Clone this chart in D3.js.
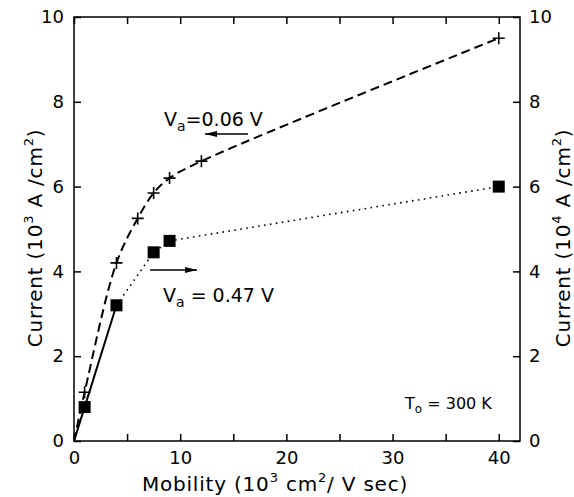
<!DOCTYPE html>
<html>
<head>
<meta charset="utf-8">
<script src="https://cdn.jsdelivr.net/npm/d3@7"></script>
<style>
  html, body { margin: 0; padding: 0; background: #fff; }
  svg { display: block; font-family: "DejaVu Sans", sans-serif; }
</style>
</head>
<body>
<svg id="chart" width="574" height="497"></svg>
<script>
// ---- data ----
const mobility006 = [0, 1, 4, 6, 7.5, 9, 12, 40];
const current006 = [0, 1.15, 4.2, 5.25, 5.85, 6.2, 6.6, 9.5];   // left axis, 10^3 A/cm^2
const mobility047 = [1, 4, 7.5, 9, 40];
const current047 = [0.8, 3.2, 4.45, 4.72, 6.0];                  // right axis, 10^4 A/cm^2
const solidMobility = [0, 1, 4];
const solidCurrent = [0, 0.8, 3.2];
const xTicks = [0, 10, 20, 30, 40];
const xMinorTicks = [5, 15, 25, 35];
const yTicks = [0, 2, 4, 6, 8, 10];

(function () {
const svg = d3.select("#chart");
const pL = 74, pR = 520, pT = 17, pB = 441;
const x = d3.scaleLinear().domain([0, 42]).range([pL, pR]);
const yL = d3.scaleLinear().domain([0, 10]).range([pB, pT]);
const yR = d3.scaleLinear().domain([0, 10]).range([pB, pT]);

// frame
svg.append("rect").attr("x", pL).attr("y", pT)
  .attr("width", pR - pL).attr("height", pB - pT)
  .attr("fill", "none").attr("stroke", "#000").attr("stroke-width", 1.5);

const tickLen = 7;
const allX = xTicks.concat(xMinorTicks);
const axB = svg.append("g").attr("transform", `translate(0,${pB})`)
  .call(d3.axisBottom(x).tickValues(allX).tickSize(-tickLen).tickSizeOuter(0).tickPadding(10)
    .tickFormat(d => xTicks.includes(d) ? d3.format("d")(d) : ""));
const axT = svg.append("g").attr("transform", `translate(0,${pT})`)
  .call(d3.axisTop(x).tickValues(allX).tickSize(-tickLen).tickSizeOuter(0).tickFormat(""));
const axL = svg.append("g").attr("transform", `translate(${pL},0)`)
  .call(d3.axisLeft(yL).tickValues(yTicks).tickSize(-tickLen).tickSizeOuter(0).tickPadding(10));
const axR = svg.append("g").attr("transform", `translate(${pR},0)`)
  .call(d3.axisRight(yR).tickValues(yTicks).tickSize(-tickLen).tickSizeOuter(0).tickPadding(9));

[axB, axT, axL, axR].forEach(g => {
  g.select(".domain").remove();
  g.selectAll(".tick line").attr("stroke", "#000").attr("stroke-width", 1.5);
  g.selectAll(".tick text").attr("font-size", 18).attr("font-family", "DejaVu Sans, sans-serif").attr("fill", "#000");
});

// lines
const dashedData = mobility006.map((m, i) => [m, current006[i]]);
const dottedData = mobility047.slice(1).map((m, i) => [m, current047[i + 1]]);
const solidData = solidMobility.map((m, i) => [m, solidCurrent[i]]);

svg.append("path").datum(dashedData)
  .attr("d", d3.line().x(d => x(d[0])).y(d => yL(d[1])).curve(d3.curveCatmullRom.alpha(0.5)))
  .attr("fill", "none").attr("stroke", "#000").attr("stroke-width", 2).attr("stroke-dasharray", "9,5");

svg.append("path").datum(solidData)
  .attr("d", d3.line().x(d => x(d[0])).y(d => yR(d[1])))
  .attr("fill", "none").attr("stroke", "#000").attr("stroke-width", 2);

svg.append("path").datum(dottedData)
  .attr("d", d3.line().x(d => x(d[0])).y(d => yR(d[1])))
  .attr("fill", "none").attr("stroke", "#000").attr("stroke-width", 1.6).attr("stroke-dasharray", "1.6,4.4");

// plus markers
const pm = 6;
svg.append("g").selectAll("path").data(dashedData.slice(1)).join("path")
  .attr("d", d => `M${x(d[0]) - pm},${yL(d[1])}H${x(d[0]) + pm}M${x(d[0])},${yL(d[1]) - pm}V${yL(d[1]) + pm}`)
  .attr("stroke", "#000").attr("stroke-width", 1.6);

// square markers
const sq = 12;
svg.append("g").selectAll("rect").data(mobility047.map((m, i) => [m, current047[i]])).join("rect")
  .attr("x", d => x(d[0]) - sq / 2).attr("y", d => yR(d[1]) - sq / 2)
  .attr("width", sq).attr("height", sq).attr("fill", "#000");

// arrows
function arrow(x1, x2, y) {
  svg.append("line").attr("x1", x1).attr("x2", x2).attr("y1", y).attr("y2", y)
    .attr("stroke", "#000").attr("stroke-width", 1.5);
  const dir = Math.sign(x2 - x1);
  svg.append("path")
    .attr("d", `M${x2},${y}L${x2 - dir * 12},${y - 3}L${x2 - dir * 12},${y + 3}Z`)
    .attr("fill", "#000");
}
arrow(248, 205, 134);
arrow(150, 197, 270);

// annotations
function va(xp, yp, val) {
  const t = svg.append("text").attr("x", xp).attr("y", yp).attr("font-size", 19).attr("fill", "#000");
  t.append("tspan").text("V");
  t.append("tspan").attr("font-size", 14).attr("dy", 5).text("a");
  t.append("tspan").attr("dy", -5).text(val);
}
va(164, 126, "=0.06 V");
va(163, 302, " = 0.47 V");

const tt = svg.append("text").attr("x", 405).attr("y", 409).attr("font-size", 16).attr("fill", "#000");
tt.append("tspan").text("T");
tt.append("tspan").attr("font-size", 12).attr("dy", 4).text("o");
tt.append("tspan").attr("dy", -4).text(" = 300 K");

// axis titles
const xt = svg.append("text").attr("x", 275).attr("y", 491).attr("text-anchor", "middle")
  .attr("font-size", 20).attr("letter-spacing", 0.8).attr("fill", "#000");
xt.append("tspan").text("Mobility  (10");
xt.append("tspan").attr("font-size", 13).attr("dy", -9).text("3");
xt.append("tspan").attr("dy", 9).text(" cm");
xt.append("tspan").attr("font-size", 13).attr("dy", -9).text("2");
xt.append("tspan").attr("dy", 9).text("/ V sec)");

function yTitle(xp, exp) {
  const t = svg.append("text").attr("transform", `translate(${xp},238) rotate(-90)`)
    .attr("text-anchor", "middle").attr("font-size", 20).attr("letter-spacing", 0.8).attr("fill", "#000");
  t.append("tspan").text("Current  (10");
  t.append("tspan").attr("font-size", 13).attr("dy", -9).text(exp);
  t.append("tspan").attr("dy", 9).text(" A /cm");
  t.append("tspan").attr("font-size", 13).attr("dy", -9).text("2");
  t.append("tspan").attr("dy", 9).text(")");
}
yTitle(42, "3");
yTitle(570, "4");
})();
</script>
</body>
</html>
